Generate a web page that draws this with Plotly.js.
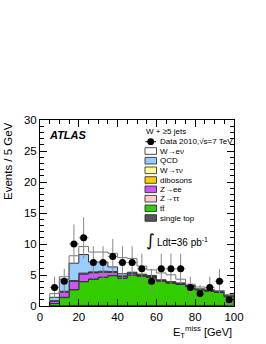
<!DOCTYPE html>
<html>
<head>
<meta charset="utf-8">
<script src="https://cdn.plot.ly/plotly-3.0.1.min.js"></script>
<style>html,body{margin:0;padding:0;background:#fff;}#chart{width:266px;height:344px;}</style>
</head>
<body>
<div id="chart"></div>
<script>
// Bin edges (GeV) and bin centres
const binEdges = [5,10,15,20,25,30,35,40,45,50,55,60,65,70,75,80,85,90,95,100];
const binCenters = [7.5,12.5,17.5,22.5,27.5,32.5,37.5,42.5,47.5,52.5,57.5,62.5,67.5,72.5,77.5,82.5,87.5,92.5,97.5];

// Data 2010
const dataCounts = [3,4,10,11,7,7,8,7,7,6,4,6,6,6,3,2,3,4,1];

// Backgrounds, stacked bottom -> top
const singleTop = [0.05,0.05,0.1,0.1,0.1,0.1,0.1,0.1,0.1,0.1,0.1,0.1,0.1,0.1,0.1,0.1,0.1,0.1,0.1];
const ttbar     = [0.35,1.3,2.5,3.8,4.2,4.5,4.8,4.4,4.9,4.7,4.5,3.9,3.6,3.4,3.0,2.5,2.3,2.1,1.4];
const zTauTau   = [0,0.05,0.05,0.05,0.05,0.05,0,0,0,0,0,0,0,0,0,0,0,0,0];
const zEE       = [0.4,0.85,1.3,1.2,1.0,0.8,0.5,0.25,0.25,0.15,0.15,0.1,0.1,0.1,0.1,0.05,0.05,0.05,0.05];
const dibosons  = [0,0.02,0.05,0.05,0.05,0.05,0.05,0.05,0.05,0.03,0.03,0.03,0.03,0.02,0.02,0.02,0.02,0.02,0.02];
const wTauNu    = [0.05,0.1,0.1,0.1,0.1,0.1,0.1,0.05,0.05,0.05,0.05,0.05,0.05,0.05,0.05,0.05,0.05,0.05,0.05];
const qcd       = [0.55,1.95,2.8,3.0,1.6,1.5,0.75,0.35,0.1,0.1,0.1,0.05,0.05,0.05,0.05,0.05,0.05,0.05,0.05];
const wENu      = [0.6,0.4,1.2,1.3,1.6,1.6,2.2,2.6,2.2,1.3,0.9,1.1,1.1,0.6,0.2,0.3,0.1,0.1,0.2];

const legendNames = ["W\u2192e\u03bd","QCD","W\u2192\u03c4\u03bd","dibosons","Z\u2192ee","Z\u2192\u03c4\u03c4","tt\u0304","single top"];

const stack = [
  {name:"single top", vals:singleTop, color:"#555555"},
  {name:"ttbar", vals:ttbar, color:"#33cc00"},
  {name:"Ztautau", vals:zTauTau, color:"#ffcccc"},
  {name:"Zee", vals:zEE, color:"#cc55ff"},
  {name:"dibosons", vals:dibosons, color:"#ffcc00"},
  {name:"Wtaunu", vals:wTauNu, color:"#ffff99"},
  {name:"QCD", vals:qcd, color:"#99ccff"},
  {name:"Wenu", vals:wENu, color:"#ffffff"}
];

const traces = [];
let cum = binCenters.map(()=>0);
stack.forEach((s,i)=>{
  cum = cum.map((c,j)=>c + s.vals[j]);
  const xs = [binEdges[0]];
  const ys = [0];
  for (let j=0;j<cum.length;j++){ xs.push(binEdges[j]); ys.push(cum[j]); }
  xs.push(binEdges[binEdges.length-1]); ys.push(cum[cum.length-1]);
  xs.push(binEdges[binEdges.length-1]); ys.push(0);
  traces.push({
    type:'scatter', mode:'lines', x:xs, y:ys,
    line:{shape:'hv', color: i===stack.length-1 ? '#777777' : '#333333', width:1},
    fill: i===0 ? 'tozeroy' : 'tonexty', fillcolor:s.color,
    hoverinfo:'skip', showlegend:false
  });
});

traces.push({
  type:'scatter', mode:'markers', x:binCenters, y:dataCounts,
  marker:{color:'#000', size:7},
  error_y:{type:'sqrt', color:'#888', thickness:1, width:0},
  error_x:{type:'constant', value:2.5, color:'#888', thickness:1, width:0},
  showlegend:false
});

const FONT = '"Liberation Sans", Arial, Helvetica, sans-serif';
const L=40, R=234, T=120, B=306;
const px = v => (v-L)/(R-L);
const py = v => (B-v)/(B-T);

const shapes = [];
const annotations = [];

// Legend
const rowY = [151,160.7,170.3,180,189.3,198.7,208.3,218];
const legColors = ["#ffffff","#99ccff","#ffff99","#ffcc00","#cc55ff","#ffcccc","#33cc00","#555555"];
annotations.push({xref:'paper',yref:'paper',x:px(144),y:py(131.7),xanchor:'left',yanchor:'middle',
  text:"W + \u22655 jets", showarrow:false, font:{family:FONT,size:8,color:'#000'}});
// data legend entry
shapes.push({type:'line',xref:'paper',yref:'paper',x0:px(145.5),x1:px(156),y0:py(141.7),y1:py(141.7),line:{color:'#000',width:1}});
shapes.push({type:'circle',xref:'paper',yref:'paper',x0:px(147.3),x1:px(154.1),y0:py(145.1),y1:py(138.3),fillcolor:'#000',line:{color:'#000',width:0}});
annotations.push({xref:'paper',yref:'paper',x:px(157.5),y:py(141.7),xanchor:'left',yanchor:'middle',
  text:"Data 2010,\u221as=7 TeV", showarrow:false, font:{family:FONT,size:8,color:'#000'}});
rowY.forEach((yy,k)=>{
  shapes.push({type:'rect',xref:'paper',yref:'paper',x0:px(145),x1:px(156.5),y0:py(yy+3.3),y1:py(yy-3.3),
    fillcolor:legColors[k],line:{color:'#222',width:0.8}});
  annotations.push({xref:'paper',yref:'paper',x:px(157.5),y:py(yy),xanchor:'left',yanchor:'middle',
    text:legendNames[k], showarrow:false, font:{family:FONT,size:8,color:'#000'}});
});

// ATLAS label
annotations.push({xref:'paper',yref:'paper',x:px(47),y:py(134.5),xanchor:'left',yanchor:'middle',
  text:"<b><i>ATLAS</i></b>", showarrow:false, font:{family:FONT,size:11,color:'#000'}});

// Luminosity
annotations.push({xref:'paper',yref:'paper',x:px(150),y:py(240),xanchor:'center',yanchor:'middle',
  text:"\u222b", showarrow:false, font:{family:'"DejaVu Sans", sans-serif',size:17,color:'#000'}});
annotations.push({xref:'paper',yref:'paper',x:px(154.5),y:py(241.5),xanchor:'left',yanchor:'middle',
  text:"Ldt=36 pb<sup>-1</sup>", showarrow:false, font:{family:FONT,size:10,color:'#000'}});

// Axis titles
annotations.push({xref:'paper',yref:'paper',x:px(8),y:py(120),xanchor:'center',yanchor:'top',textangle:-90,
  text:"Events / 5 GeV", showarrow:false, font:{family:FONT,size:11.5,color:'#000'}});
annotations.push({xref:'paper',yref:'paper',x:px(234),y:py(332),xanchor:'right',yanchor:'middle',
  text:"E<sub>T</sub><sup>miss</sup> [GeV]", showarrow:false, font:{family:FONT,size:11,color:'#000'}});

const layout = {
  width:266, height:344,
  margin:{l:L, r:266-R, t:T, b:344-B, pad:0},
  paper_bgcolor:'#fff', plot_bgcolor:'#fff',
  showlegend:false,
  font:{family:FONT, size:11, color:'#000'},
  xaxis:{range:[0,100], dtick:20, tick0:0, ticks:'inside', ticklen:7, tickcolor:'#000', tickwidth:1,
    showline:true, linecolor:'#000', linewidth:1, mirror:'allticks', showgrid:false, zeroline:false,
    minor:{dtick:5, ticks:'inside', ticklen:4, tickcolor:'#000', showgrid:false},
    tickfont:{family:FONT,size:11.5,color:'#000'}},
  yaxis:{range:[0,30], dtick:5, tick0:0, ticks:'inside', ticklen:7, tickcolor:'#000', tickwidth:1,
    showline:true, linecolor:'#000', linewidth:1, mirror:'allticks', showgrid:false, zeroline:false,
    minor:{dtick:1, ticks:'inside', ticklen:4, tickcolor:'#000', showgrid:false},
    tickfont:{family:FONT,size:11.5,color:'#000'}},
  shapes:shapes, annotations:annotations
};

Plotly.newPlot('chart', traces, layout, {staticPlot:true, displayModeBar:false});
</script>
</body>
</html>
